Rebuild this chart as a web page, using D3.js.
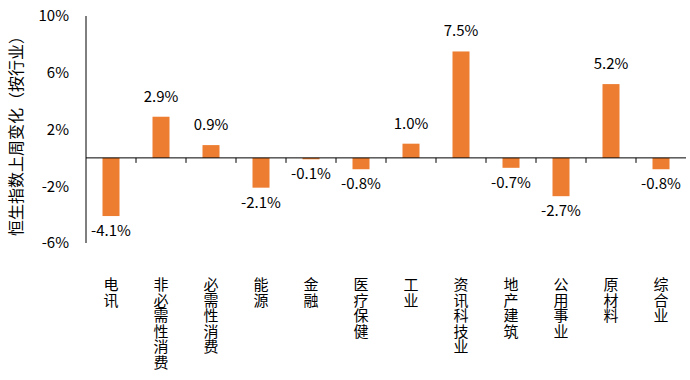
<!DOCTYPE html>
<html><head><meta charset="utf-8">
<script src="https://cdn.jsdelivr.net/npm/d3@7/dist/d3.min.js"></script>
<style>body{margin:0;background:#fff}</style>
</head><body>
<svg id="c" width="690" height="380"></svg>
<script>
const categories = ["电讯","非必需性消费","必需性消费","能源","金融","医疗保健","工业","资讯科技业","地产建筑","公用事业","原材料","综合业"];
const values = [-4.1, 2.9, 0.9, -2.1, -0.1, -0.8, 1.0, 7.5, -0.7, -2.7, 5.2, -0.8];
const yTicks = [-6, -2, 2, 6, 10];
const yTitle = "恒生指数上周变化（按行业）";

const svg = d3.select("#c");
const font = "'Noto Sans CJK SC','Open Sans',sans-serif";
const pL = 86, pR = 686, pT = 16, pB = 243;
const x = d3.scaleBand().domain(categories).range([pL, pR]).paddingInner(0.66).paddingOuter(0.33);
const xb = d3.scaleBand().domain(categories).range([pL, pR]);
const y = d3.scaleLinear().domain([-6, 10]).range([pB, pT]);

// y axis line
svg.append("line").attr("x1", pL).attr("x2", pL).attr("y1", y(10)).attr("y2", y(-6)).attr("stroke", "#000").attr("stroke-width", 1);
svg.selectAll(".yt").data(yTicks).enter().append("text")
  .attr("x", 69).attr("y", d => y(d)).attr("dy", "0.35em").attr("text-anchor", "end")
  .attr("font-family", font).attr("font-size", 15).attr("fill", "#000")
  .text(d => d + "%");

// bars
svg.selectAll(".bar").data(values).enter().append("rect")
  .attr("x", (d, i) => x(categories[i])).attr("width", x.bandwidth())
  .attr("y", d => y(Math.max(0, d))).attr("height", d => Math.abs(y(d) - y(0)))
  .attr("fill", "#ED7D31");

// zero line
svg.append("line").attr("x1", pL).attr("x2", pR).attr("y1", y(0)).attr("y2", y(0)).attr("stroke", "#000").attr("stroke-width", 1);
// ticks between categories
svg.selectAll(".xt").data(categories.slice(1)).enter().append("line")
  .attr("x1", d => xb(d)).attr("x2", d => xb(d)).attr("y1", y(0)).attr("y2", y(0) + 5)
  .attr("stroke", "#000");

// value labels
svg.selectAll(".vl").data(values).enter().append("text")
  .attr("x", (d, i) => xb(categories[i]) + xb.bandwidth() / 2)
  .attr("y", d => d >= 0 ? y(d) - 15 : y(d) + 20)
  .attr("text-anchor", "middle").attr("font-family", font).attr("font-size", 15).attr("fill", "#000")
  .text(d => d.toFixed(1) + "%");

// x labels (vertical)
svg.selectAll(".xl").data(categories).enter().append("text")
  .attr("x", d => xb(d) + xb.bandwidth() / 2).attr("y", 277)
  .style("writing-mode", "vertical-rl").style("text-orientation", "upright")
  .attr("letter-spacing", 0.5)
  .attr("font-family", font).attr("font-size", 15).attr("fill", "#000")
  .text(d => d);

// y title
svg.append("text").attr("transform", "translate(22,132) rotate(-90)")
  .attr("text-anchor", "middle").attr("font-family", font).attr("font-size", 16).attr("fill", "#000")
  .text(yTitle);
</script>
</body></html>
